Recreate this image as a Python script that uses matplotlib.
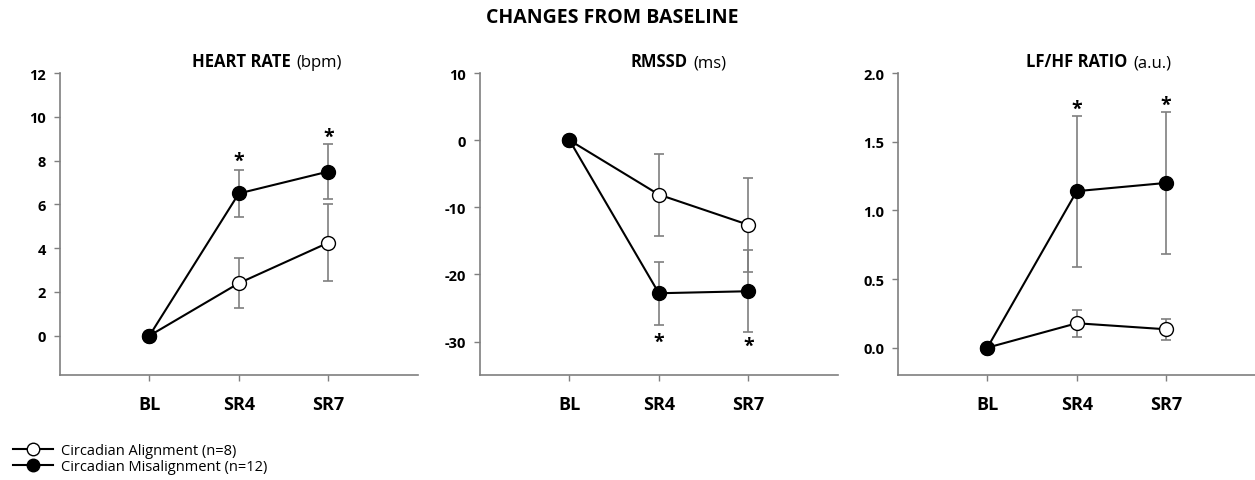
import numpy as np
import matplotlib.pyplot as plt
from matplotlib.lines import Line2D

plt.rcParams['font.family'] = ['Open Sans', 'DejaVu Sans']

days = ['BL', 'SR4', 'SR7']

# heart rate (bpm)
hr_align = [0, 2.4, 4.25]
hr_align_err = [0, 1.15, 1.75]
hr_mis = [0, 6.5, 7.5]
hr_mis_err = [0, 1.07, 1.25]
hr_stars = [8.0, 9.1]

# RMSSD (ms)
rm_align = [0, -8.1, -12.6]
rm_align_err = [0, 6.1, 7.0]
rm_mis = [0, -22.8, -22.5]
rm_mis_err = [0, 4.7, 6.1]
rm_stars = [-30.0, -30.6]

# LF/HF ratio (a.u.)
lf_align = [0, 0.178, 0.134]
lf_align_err = [0, 0.10, 0.078]
lf_mis = [0, 1.14, 1.20]
lf_mis_err = [0, 0.55, 0.52]
lf_stars = [1.74, 1.77]

panels = [
    ('HEART RATE', '(bpm)', hr_align, hr_align_err, hr_mis, hr_mis_err, hr_stars,
     (-1.8, 12), np.arange(0, 13, 2), '{:.0f}', 0.654),
    ('RMSSD', '(ms)', rm_align, rm_align_err, rm_mis, rm_mis_err, rm_stars,
     (-35, 10), np.arange(-30, 11, 10), '{:.0f}', 0.589),
    ('LF/HF RATIO', '(a.u.)', lf_align, lf_align_err, lf_mis, lf_mis_err, lf_stars,
     (-0.2, 2.0), np.arange(0, 2.01, 0.5), '{:.1f}', 0.65),
]

gray = '#7f7f7f'
fig = plt.figure(figsize=(12.55, 4.81), dpi=100)
lefts = [0.0478, 0.3825, 0.7155]

x = np.arange(1, 4)
for left, p in zip(lefts, panels):
    name, unit, al, al_e, mi, mi_e, stars, ylim, yt, fmt, split = p
    ax = fig.add_axes([left, 0.218, 0.285, 0.628])
    for vals, errs in [(al, al_e), (mi, mi_e)]:
        ax.errorbar(x[1:], vals[1:], yerr=errs[1:], fmt='none', ecolor=gray,
                    elinewidth=1.2, capsize=3.5, capthick=1.2, zorder=1)
    ax.plot(x, al, '-o', color='black', lw=1.5, ms=10, mfc='white', mec='black',
            mew=1.0, zorder=3)
    ax.plot(x, mi, '-o', color='black', lw=1.5, ms=10, mfc='black', mec='black',
            mew=1.0, zorder=4)
    for xi, s in zip(x[1:], stars):
        ax.text(xi, s, '*', ha='center', va='center', fontsize=14, fontweight='bold')
    ax.set_xlim(0, 4)
    ax.set_ylim(*ylim)
    ax.set_yticks(yt)
    ax.set_yticklabels([fmt.format(v) for v in yt], fontsize=10.5, fontweight='bold')
    ax.set_xticks(x)
    ax.set_xticklabels(days, fontsize=13, fontweight='bold')
    ax.tick_params(axis='y', length=4, color=gray, width=1, pad=6)
    ax.tick_params(axis='x', length=4, color=gray, width=1, pad=10)
    for s in ['top', 'right']:
        ax.spines[s].set_visible(False)
    for s in ['left', 'bottom']:
        ax.spines[s].set_color(gray)
        ax.spines[s].set_linewidth(1.2)
    ax.text(split - 0.008, 1.01, name, transform=ax.transAxes, ha='right',
            va='bottom', fontsize=12, fontweight='bold')
    ax.text(split + 0.008, 1.01, unit, transform=ax.transAxes, ha='left',
            va='bottom', fontsize=12)

fig.text(0.488, 0.962, 'CHANGES FROM BASELINE', ha='center', va='center',
         fontsize=14, fontweight='bold')

handles = [
    Line2D([], [], color='black', lw=1.5, marker='o', ms=9, mfc='white', mec='black'),
    Line2D([], [], color='black', lw=1.5, marker='o', ms=9, mfc='black', mec='black'),
]
fig.legend(handles, ['Circadian Alignment (n=8)', 'Circadian Misalignment (n=12)'],
           loc='lower left', bbox_to_anchor=(0.006, 0.0), frameon=False, fontsize=10.5,
           handlelength=2.7, handletextpad=0.6, labelspacing=0.05, borderaxespad=0.0)

fig.savefig('out.png', dpi=100)
